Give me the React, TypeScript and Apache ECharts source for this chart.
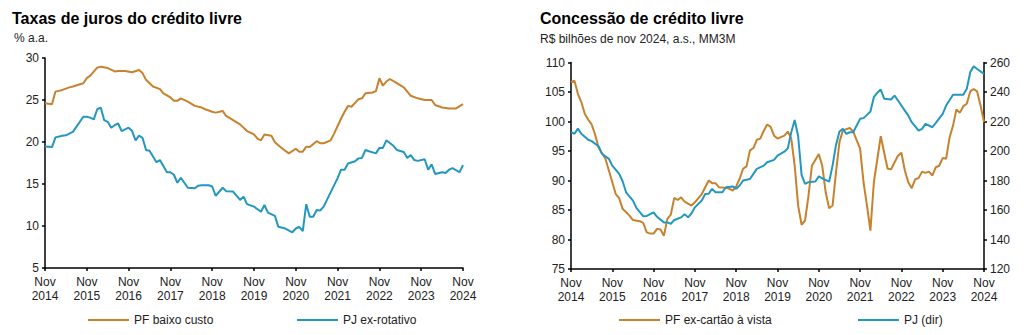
import React, { useEffect, useRef } from "react";
import * as echarts from "echarts";

// x values are months since Nov 2014
const yearLabels = ["2014", "2015", "2016", "2017", "2018", "2019", "2020", "2021", "2022", "2023", "2024"];

const pfBaixoCusto: [number, number][] = [
  [0, 24.6], [2, 24.5], [3, 26.0], [5, 26.2], [7, 26.5], [8, 26.6], [11, 27.0], [12, 27.6], [13, 27.9],
  [15, 28.85], [16, 28.97], [18, 28.8], [20, 28.4], [21, 28.45], [23, 28.45], [25, 28.3], [27, 28.57],
  [28, 28.2], [29, 27.4], [31, 26.6], [33, 26.3], [34, 25.8], [36, 25.3], [37, 24.9], [38, 24.9],
  [39, 25.2], [41, 24.8], [43, 24.3], [45, 24.1], [46, 23.9], [48, 23.6], [49, 23.5], [51, 23.7],
  [52, 23.1], [54, 22.6], [56, 22.1], [58, 21.3], [60, 20.9], [61, 20.4], [62, 20.2], [63, 20.9],
  [65, 20.75], [66, 19.96], [68, 19.25], [70, 18.65], [72, 19.2], [73, 18.85], [74, 18.85], [75, 19.45],
  [76, 19.4], [78, 20.1], [79, 19.85], [80, 19.85], [82, 20.2], [83, 21.0], [85, 22.8], [86, 23.6],
  [87, 24.3], [88, 24.2], [90, 25.1], [91, 25.2], [92, 25.8], [94, 25.9], [95, 26.05], [96, 27.6],
  [97, 26.7], [98, 27.2], [99, 27.5], [101, 27.0], [103, 26.5], [105, 25.5], [107, 25.2], [109, 25.0],
  [111, 25.0], [112, 24.4], [114, 24.1], [116, 24.0], [118, 24.0], [120, 24.5],
];

const pjExRotativo: [number, number][] = [
  [0, 19.45], [2, 19.4], [3, 20.55], [5, 20.75], [6, 20.8], [8, 21.2], [9, 21.8], [11, 23.0], [12, 23.0],
  [13, 22.9], [14, 22.7], [15, 23.9], [16, 24.1], [17, 22.6], [18, 22.4], [19, 21.7], [20, 22.0],
  [21, 22.2], [22, 21.3], [24, 21.7], [25, 21.3], [26, 20.2], [27, 20.75], [28, 20.5], [29, 19.05],
  [30, 18.95], [32, 17.6], [33, 17.85], [35, 16.4], [36, 16.4], [37, 16.1], [38, 15.15], [39, 15.75],
  [41, 14.55], [43, 14.5], [44, 14.8], [45, 14.85], [47, 14.85], [48, 14.7], [49, 13.6], [51, 14.55],
  [52, 14.15], [54, 14.1], [56, 13.1], [57, 13.5], [58, 12.6], [60, 12.3], [61, 12.0], [62, 11.7],
  [63, 12.5], [64, 11.6], [66, 11.2], [67, 9.9], [69, 9.7], [71, 9.25], [72, 9.7], [73, 9.9], [74, 9.4],
  [75, 12.6], [76, 11.1], [77, 11.1], [78, 11.9], [79, 11.85], [80, 12.3], [82, 14.0], [84, 15.7],
  [85, 16.7], [86, 16.7], [87, 17.45], [89, 17.7], [90, 18.05], [91, 18.1], [92, 19.05], [93, 18.9],
  [95, 18.65], [96, 19.3], [97, 19.3], [98, 20.2], [100, 19.55], [101, 19.05], [103, 18.8], [104, 18.1],
  [105, 18.45], [106, 17.85], [107, 17.75], [109, 17.95], [110, 16.7], [111, 17.35], [112, 16.2],
  [114, 16.4], [115, 16.3], [116, 16.7], [117, 16.9], [119, 16.4], [120, 17.25],
];

const pfExCartao: [number, number][] = [
  [0, 106.7], [1, 106.9], [2, 104.7], [3, 103.3], [4, 101.3], [5, 100.3], [6, 99.5], [7, 97.8], [8, 95.6],
  [10, 93.7], [11, 91.7], [12, 89.7], [13, 87.7], [14, 87.0], [15, 85.2], [17, 84.05], [18, 83.3],
  [20, 83.1], [21, 82.8], [22, 81.2], [23, 81.0], [24, 81.0], [25, 81.8], [26, 81.7], [27, 80.65],
  [28, 83.5], [29, 84.2], [30, 87.05], [31, 86.7], [32, 87.15], [33, 86.4], [35, 85.75], [36, 86.3],
  [38, 87.7], [40, 90.0], [41, 89.55], [42, 89.55], [43, 88.85], [45, 88.75], [46, 88.6], [47, 88.3],
  [48, 89.0], [49, 90.3], [50, 92.0], [51, 92.4], [52, 95.1], [53, 95.5], [54, 96.9], [55, 97.1],
  [56, 98.4], [57, 99.5], [58, 99.1], [59, 97.6], [60, 97.1], [62, 97.6], [63, 98.3], [64, 97.1],
  [65, 92.5], [66, 85.75], [67, 82.5], [68, 83.2], [69, 87.4], [70, 92.5], [72, 94.5], [73, 92.5],
  [74, 88.0], [75, 85.3], [76, 85.75], [77, 91.4], [78, 96.5], [79, 98.5], [81, 98.9], [82, 98.3],
  [84, 95.4], [85, 89.7], [86, 85.75], [87, 81.5], [88, 89.7], [90, 97.5], [91, 94.7], [92, 92.0],
  [93, 91.9], [95, 94.2], [96, 94.7], [97, 91.7], [98, 89.7], [99, 88.7], [100, 90.2], [101, 90.4],
  [102, 91.5], [103, 91.3], [104, 91.5], [105, 90.85], [106, 92.25], [107, 92.5], [108, 93.8],
  [109, 93.7], [110, 97.3], [111, 99.3], [112, 102.05], [113, 101.5], [114, 102.6], [115, 103.0],
  [116, 105.1], [117, 105.5], [118, 105.1], [119, 102.7], [120, 99.9],
];

const pjDir: [number, number][] = [
  [0, 212.8], [1, 211.7], [2, 215.2], [3, 211.7], [5, 207.6], [6, 206.7], [8, 203.2], [9, 198.1],
  [11, 194.7], [12, 190.1], [14, 184.5], [15, 179.5], [16, 172.0], [18, 166.4], [19, 161.4], [21, 155.7],
  [22, 156.0], [24, 158.4], [25, 155.4], [27, 151.6], [28, 151.6], [29, 150.6], [30, 153.2], [32, 155.0],
  [33, 157.2], [34, 155.0], [35, 157.6], [36, 161.8], [38, 166.4], [39, 170.9], [40, 171.0], [41, 174.3],
  [42, 172.0], [44, 172.0], [45, 175.4], [47, 176.0], [48, 174.3], [49, 176.6], [50, 180.0], [52, 181.0],
  [53, 184.5], [54, 187.9], [56, 190.1], [57, 192.4], [59, 194.0], [60, 196.9], [62, 199.5], [63, 201.8],
  [64, 212.7], [65, 221.0], [66, 210.0], [67, 183.8], [68, 177.7], [69, 178.9], [71, 179.3], [72, 182.8],
  [73, 181.4], [75, 179.2], [76, 190.1], [77, 204.1], [78, 213.2], [79, 215.0], [80, 211.6], [81, 212.7],
  [82, 212.7], [84, 221.8], [85, 222.3], [86, 224.5], [87, 226.8], [88, 236.5], [89, 239.5], [90, 241.7],
  [91, 235.4], [93, 234.9], [94, 237.6], [95, 234.2], [97, 227.4], [98, 224.0], [99, 219.5], [101, 213.8],
  [102, 215.0], [103, 218.4], [105, 216.1], [106, 219.1], [108, 225.2], [109, 230.8], [111, 238.1],
  [112, 238.1], [114, 238.1], [115, 242.2], [116, 253.4], [117, 257.5], [118, 255.6], [120, 252.3],
];

const ORANGE = "#C8812D";
const BLUE = "#2297C0";
const FONT = '"Liberation Sans", Arial, sans-serif';
const TXT = "#222";

function xAxisFor(gridIndex: number) {
  return {
    gridIndex,
    type: "value",
    min: 0,
    max: 120,
    interval: 12,
    axisLine: { show: true, onZero: false, lineStyle: { color: "#000", width: 1.5 } },
    axisTick: { show: true, length: 3, lineStyle: { color: "#000", width: 1.5 } },
    splitLine: { show: false },
    axisLabel: {
      fontFamily: FONT,
      fontSize: 12,
      color: TXT,
      lineHeight: 14,
      margin: 7,
      formatter: (v: number) => "Nov\n" + yearLabels[Math.round(v / 12)],
    },
  };
}

function yAxisFor(gridIndex: number, min: number, max: number, interval: number, position: string) {
  return {
    gridIndex,
    type: "value",
    position,
    min,
    max,
    interval,
    axisLine: { show: true, lineStyle: { color: "#000", width: 1.5 } },
    axisTick: { show: true, length: 3, lineStyle: { color: "#000", width: 1.5 } },
    splitLine: { show: false },
    axisLabel: { fontFamily: FONT, fontSize: 12, color: TXT, margin: 6 },
  };
}

function lineSeries(name: string, data: [number, number][], color: string, xi: number, yi: number) {
  return {
    name,
    type: "line",
    xAxisIndex: xi,
    yAxisIndex: yi,
    data,
    showSymbol: false,
    symbol: "none",
    lineStyle: { color, width: 2 },
    itemStyle: { color },
  };
}

function legendAt(name: string, left: number) {
  return {
    data: [name],
    left,
    top: 314,
    padding: 0,
    icon: "rect",
    itemWidth: 41,
    itemHeight: 2,
    textStyle: { fontFamily: FONT, fontSize: 12, color: TXT },
  };
}

function titleAt(text: string, left: number, top: number, size: number, bold: boolean) {
  return {
    text,
    left,
    top,
    padding: 0,
    textStyle: { fontFamily: FONT, fontSize: size, fontWeight: bold ? "bold" : "normal", color: bold ? "#000" : TXT },
  };
}

export default function App() {
  const ref = useRef<HTMLDivElement>(null);
  useEffect(() => {
    if (!ref.current) return;
    const chart = echarts.init(ref.current, null, { renderer: "svg" });
    chart.setOption({
      animation: false,
      backgroundColor: "#fff",
      title: [
        titleAt("Taxas de juros do crédito livre", 12, 10, 16, true),
        titleAt("% a.a.", 14, 32, 12, false),
        titleAt("Concessão de crédito livre", 540, 10, 16, true),
        titleAt("R$ bilhões de nov 2024, a.s., MM3M", 540, 33, 12, false),
      ],
      legend: [
        legendAt("PF baixo custo", 88),
        legendAt("PJ ex-rotativo", 297),
        legendAt("PF ex-cartão à vista", 619),
        legendAt("PJ (dir)", 858),
      ],
      grid: [
        { left: 45, right: 561, top: 58, bottom: 67 },
        { left: 571, right: 40, top: 62.5, bottom: 66 },
      ],
      xAxis: [xAxisFor(0), xAxisFor(1)],
      yAxis: [
        yAxisFor(0, 5, 30, 5, "left"),
        yAxisFor(1, 75, 110, 5, "left"),
        yAxisFor(1, 120, 260, 20, "right"),
      ],
      series: [
        lineSeries("PF baixo custo", pfBaixoCusto, ORANGE, 0, 0),
        lineSeries("PJ ex-rotativo", pjExRotativo, BLUE, 0, 0),
        lineSeries("PF ex-cartão à vista", pfExCartao, ORANGE, 1, 1),
        lineSeries("PJ (dir)", pjDir, BLUE, 1, 2),
      ],
    });
    return () => chart.dispose();
  }, []);
  return (
    <div
      ref={ref}
      style={{ position: "absolute", left: 0, top: 0, width: 1024, height: 335 }}
    />
  );
}
